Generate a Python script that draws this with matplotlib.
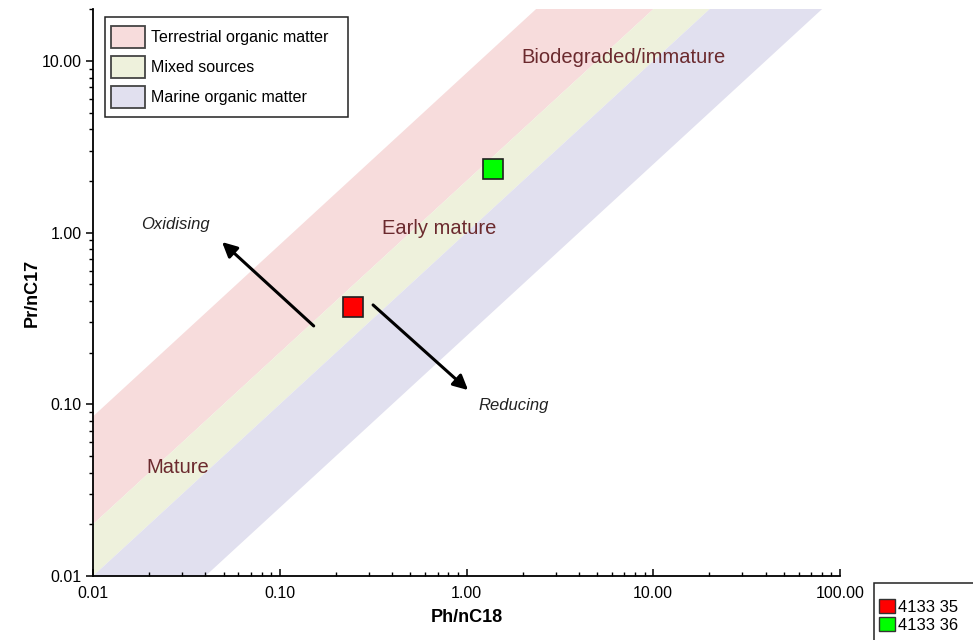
import matplotlib
matplotlib.use('Agg')
import matplotlib.pyplot as plt
from matplotlib.ticker import LogLocator, FuncFormatter, NullFormatter
from matplotlib.patches import Patch, Rectangle
import numpy as np

plt.rcParams['font.family'] = ['Liberation Sans', 'DejaVu Sans']

# band boundaries as Pr/nC17 = ratio * Ph/nC18
band_names = ['Terrestrial organic matter', 'Mixed sources', 'Marine organic matter']
band_ratios = [8.5, 2.0, 1.0, 0.25]
band_colors = ['#f7dcdc', '#eef1dc', '#e1e0ef']
band_edges = ['#444444', '#444444', '#444444']

# samples
sample_names = ['4133 35', '4133 36']
ph_nc18 = [0.247, 1.39]
pr_nc17 = [0.369, 2.35]
sample_colors = ['#ff0000', '#00ff00']

# arrows (tail -> head) in data coords
oxid_tail, oxid_head = (0.152, 0.286), (0.0491, 0.881)
red_tail, red_head = (0.316, 0.379), (1.02, 0.121)

xlim = (0.01, 100)
ylim = (0.01, 20)

fig = plt.figure(figsize=(9.73, 6.4), dpi=100)
ax = fig.add_axes([93/973, 0.1, (840-93)/973, 0.9856-0.1])
ax.set_xscale('log')
ax.set_yscale('log')
ax.set_xlim(*xlim)
ax.set_ylim(*ylim)

xx = np.array([0.001, 1000.0])
for i in range(3):
    ax.fill_between(xx, band_ratios[i+1]*xx, band_ratios[i]*xx,
                    color=band_colors[i], lw=0, zorder=1)

# sample points
for i in range(len(sample_names)):
    ax.plot(ph_nc18[i], pr_nc17[i], 's', ms=15, mfc=sample_colors[i],
            mec='#202020', mew=1.2, zorder=5)

# arrows
aprops = dict(arrowstyle='-|>', lw=2.2, color='black', mutation_scale=22,
              shrinkA=0, shrinkB=0)
ax.annotate('', xy=oxid_head, xytext=oxid_tail, arrowprops=aprops, zorder=4)
ax.annotate('', xy=red_head, xytext=red_tail, arrowprops=aprops, zorder=4)
ax.text(0.0275, 1.11, 'Oxidising', style='italic', fontsize=12,
        ha='center', va='center', color='#222222')
ax.text(1.79, 0.099, 'Reducing', style='italic', fontsize=12,
        ha='center', va='center', color='#222222')

tcol = '#6b2a2e'
ax.text(6.97, 10.5, 'Biodegraded/immature', fontsize=14.5, ha='center', va='center', color=tcol)
ax.text(0.713, 1.05, 'Early mature', fontsize=14.5, ha='center', va='center', color=tcol)
ax.text(0.0285, 0.0426, 'Mature', fontsize=14.5, ha='center', va='center', color=tcol)

# axes styling
for s in ['top', 'right']:
    ax.spines[s].set_visible(False)
for s in ['left', 'bottom']:
    ax.spines[s].set_linewidth(1.3)
fmt = FuncFormatter(lambda v, p: '%.2f' % v)
ax.xaxis.set_major_locator(LogLocator(base=10, numticks=10))
ax.yaxis.set_major_locator(LogLocator(base=10, numticks=10))
ax.xaxis.set_minor_locator(LogLocator(base=10, subs=np.arange(2, 10), numticks=20))
ax.yaxis.set_minor_locator(LogLocator(base=10, subs=np.arange(2, 10), numticks=20))
ax.xaxis.set_major_formatter(fmt)
ax.yaxis.set_major_formatter(fmt)
ax.xaxis.set_minor_formatter(NullFormatter())
ax.yaxis.set_minor_formatter(NullFormatter())
ax.tick_params(axis='x', which='major', direction='in', length=5, width=1.1, labelsize=11.5, pad=7)
ax.tick_params(axis='x', which='minor', direction='in', length=3, width=1)
ax.tick_params(axis='y', which='major', direction='out', length=5, width=1.1, labelsize=11.5, pad=3)
ax.tick_params(axis='y', which='minor', direction='out', length=3, width=1)
ax.set_xlabel('Ph/nC18', fontsize=13, fontweight='bold', labelpad=6)
ax.set_ylabel('Pr/nC17', fontsize=13, fontweight='bold', labelpad=1)

# band legend (frame drawn separately)
fig.patches.append(Rectangle((105/973, 1-117/640), 243/973, 100/640,
                             transform=fig.transFigure, facecolor='white',
                             edgecolor='#222222', lw=1.1, zorder=10))
handles = [Patch(facecolor=band_colors[i], edgecolor=band_edges[i], lw=1.3, label=band_names[i])
           for i in range(3)]
leg = fig.legend(handles=handles, loc='upper left', bbox_to_anchor=(111/973, 1-26/640),
                 fontsize=11.5, frameon=False, handlelength=2.15, handleheight=1.74,
                 labelspacing=0.5, handletextpad=0.35, borderpad=0, borderaxespad=0)
leg.set_zorder(11)

# sample legend, bottom right outside axes
fig.patches.append(Rectangle((874/973, -0.05), 0.2, 0.05 + (640-583)/640,
                             transform=fig.transFigure, fill=False,
                             edgecolor='#222222', lw=1.1))
shandles = [Patch(facecolor=sample_colors[i], edgecolor='#333333', lw=1.0, label=sample_names[i])
            for i in range(len(sample_names))]
fig.legend(handles=shandles, loc='upper left', bbox_to_anchor=(879/973, 1-599/640),
           fontsize=12, frameon=False, handlelength=0.95, handleheight=0.9,
           handletextpad=0.2, labelspacing=0.15, borderpad=0, borderaxespad=0)

fig.savefig('out.png', dpi=100)
